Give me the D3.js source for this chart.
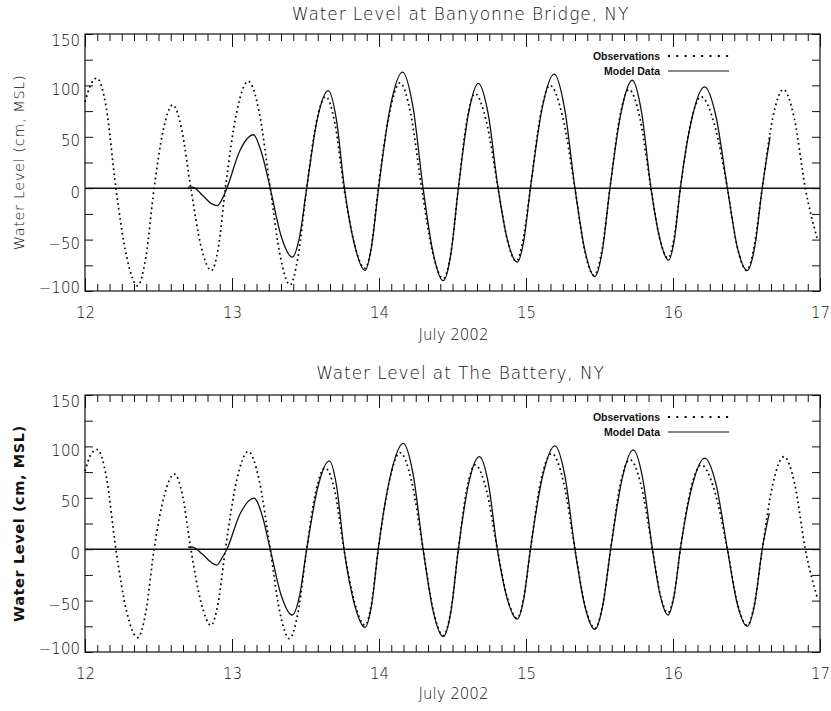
<!DOCTYPE html>
<html><head><meta charset="utf-8">
<script src="https://cdn.jsdelivr.net/npm/d3@7"></script>
<style>body{margin:0;background:#fff} svg{display:block}</style>
</head><body><svg id="c" width="831" height="711"></svg>
<script>
// ---- data (time in days of July 2002, water level in cm MSL) ----
const xTickValues = [12, 13, 14, 15, 16, 17];
const yLabelValues = [-100, -50, 0, 50, 100, 150];
const titles = ["Water Level at Banyonne Bridge, NY", "Water Level at The Battery, NY"];
const xAxisTitle = "July 2002";
const yAxisTitle = "Water Level (cm, MSL)";
const legendLabels = ["Observations", "Model Data"];

const obsBanyonne = [
[12.00,84],[12.04,101],[12.08,107],[12.145,78],[12.21,0],[12.284,-67],[12.358,-95],[12.414,-67],[12.47,0],
[12.533,57],[12.597,81],[12.658,57],[12.72,0],[12.79,-57],[12.86,-80],[12.908,-57],[12.955,0],
[13.032,74],[13.11,104],[13.185,74],[13.26,0],[13.328,-66],[13.395,-94],[13.45,-66],[13.508,0],
[13.572,63],[13.637,89],[13.70,63],[13.762,0],[13.834,-55],[13.905,-78],[13.95,-55],[13.995,0],
[14.07,72],[14.143,102.5],[14.216,72],[14.29,0],[14.364,-62],[14.437,-88],[14.49,-62],[14.54,0],
[14.597,65],[14.653,92],[14.73,65],[14.81,0],[14.872,-50],[14.935,-71],[14.98,-50],[15.03,0],
[15.097,70],[15.163,100],[15.248,70],[15.333,0],[15.398,-60],[15.463,-85],[15.517,-60],[15.571,0],
[15.636,68],[15.70,96],[15.775,68],[15.85,0],[15.908,-48],[15.966,-68],[16.008,-48],[16.05,0],
[16.12,63],[16.19,89],[16.28,63],[16.37,0],[16.435,-56],[16.50,-80],[16.553,-56],[16.607,0],
[16.678,68],[16.75,96],[16.825,68],[16.90,0],[16.983,-50]];

const modelBanyonne = [
[12.70,1],[12.73,1],[12.80,-7],[12.86,-15],[12.90,-17],[12.935,-10],[12.965,0],
[13.055,37],[13.146,52],[13.20,35],[13.26,0],[13.335,-47],[13.41,-67],[13.46,-47],[13.508,0],
[13.58,67],[13.655,95],[13.71,67],[13.765,0],[13.835,-56],[13.905,-80],[13.95,-56],[13.997,0],
[14.078,80],[14.16,113],[14.23,80],[14.30,0],[14.368,-63],[14.437,-90],[14.49,-63],[14.54,0],
[14.608,72],[14.676,102],[14.743,72],[14.81,0],[14.875,-51],[14.94,-72],[14.985,-51],[15.03,0],
[15.11,78],[15.192,111],[15.262,78],[15.333,0],[15.40,-60],[15.468,-86],[15.52,-60],[15.571,0],
[15.647,74],[15.723,105],[15.786,74],[15.85,0],[15.91,-49],[15.97,-70],[16.01,-49],[16.05,0],
[16.132,70],[16.215,98.5],[16.292,70],[16.37,0],[16.437,-57],[16.505,-80],[16.556,-57],[16.607,0],
[16.66,50]];

const obsBattery = [
[12.00,76],[12.04,92],[12.084,97],[12.147,69],[12.21,0],[12.284,-61],[12.358,-86],[12.414,-61],[12.47,0],
[12.539,52],[12.608,73],[12.664,52],[12.72,0],[12.79,-52],[12.857,-74],[12.906,-52],[12.955,0],
[13.032,67],[13.11,95],[13.185,67],[13.26,0],[13.325,-61],[13.39,-87],[13.45,-61],[13.508,0],
[13.57,56],[13.633,79],[13.70,56],[13.762,0],[13.834,-52],[13.905,-74],[13.95,-52],[13.995,0],
[14.07,66],[14.143,94],[14.222,66],[14.30,0],[14.368,-59],[14.437,-84],[14.49,-59],[14.54,0],
[14.597,58],[14.653,82],[14.73,58],[14.805,0],[14.872,-47],[14.94,-67],[14.985,-47],[15.03,0],
[15.10,66],[15.175,93],[15.254,66],[15.333,0],[15.40,-54],[15.469,-77],[15.522,-54],[15.576,0],
[15.64,62],[15.707,87],[15.783,62],[15.86,0],[15.913,-44],[15.966,-62],[16.008,-44],[16.05,0],
[16.12,58],[16.193,82],[16.28,58],[16.37,0],[16.437,-52],[16.505,-74],[16.556,-52],[16.607,0],
[16.68,64],[16.755,90],[16.827,64],[16.90,0],[16.983,-48]];

const modelBattery = [
[12.70,2],[12.73,2],[12.80,-5],[12.86,-13],[12.896,-15.5],[12.93,-9],[12.965,0],
[13.057,35],[13.15,49.6],[13.205,33],[13.26,0],[13.335,-45],[13.41,-64],[13.46,-45],[13.508,0],
[13.585,61],[13.662,86],[13.712,61],[13.762,0],[13.834,-54],[13.905,-76],[13.95,-54],[13.995,0],
[14.08,73],[14.165,103],[14.232,73],[14.30,0],[14.368,-60],[14.437,-85],[14.49,-60],[14.54,0],
[14.61,64],[14.683,90],[14.744,64],[14.805,0],[14.872,-48],[14.94,-68],[14.985,-48],[15.03,0],
[15.113,71],[15.197,100.5],[15.265,71],[15.333,0],[15.40,-55],[15.469,-78],[15.522,-55],[15.576,0],
[15.653,68],[15.73,96.6],[15.795,68],[15.86,0],[15.913,-45],[15.966,-64],[16.008,-45],[16.05,0],
[16.133,63],[16.216,88.6],[16.293,63],[16.37,0],[16.437,-53],[16.505,-75],[16.556,-53],[16.607,0],
[16.655,35]];

// ---- layout ----
const FONT = "'DejaVu Sans', sans-serif";
const panels = [
  {top: 34, bottom: 291, titleY: 20, tickY: 313, xTitleY: 340, obs: obsBanyonne, model: modelBanyonne, yBold: false},
  {top: 395, bottom: 652, titleY: 379, tickY: 674, xTitleY: 699, obs: obsBattery, model: modelBattery, yBold: true}
];
const L = 85, R = 820;
const svg = d3.select("#c");
const ink = "#111";

panels.forEach((p, i) => {
  const x = d3.scaleLinear().domain([12, 17]).range([L, R]);
  const y = d3.scaleLinear().domain([-100, 150]).range([p.bottom, p.top]);
  const g = svg.append("g");

  // title
  g.append("text").attr("x", (L + R) / 2 + 8).attr("y", p.titleY)
    .attr("text-anchor", "middle").attr("font-family", FONT).attr("font-size", 17)
    .attr("font-weight", 200).style("letter-spacing", "0.9px").attr("fill", ink)
    .text(titles[i]);

  // minor x ticks (2 h) bottom & top
  const minor = d3.range(0, 61).map(k => 12 + k / 12);
  g.append("g").attr("transform", `translate(0,${p.bottom})`)
    .call(d3.axisBottom(x).tickValues(minor).tickSize(-7).tickFormat(""))
    .call(a => a.select(".domain").remove());
  g.append("g").attr("transform", `translate(0,${p.top})`)
    .call(d3.axisTop(x).tickValues(minor).tickSize(-7).tickFormat(""))
    .call(a => a.select(".domain").remove());
  // major x ticks
  const xb = g.append("g").attr("transform", `translate(0,${p.bottom})`)
    .call(d3.axisBottom(x).tickValues(xTickValues).tickSize(-13).tickFormat(d3.format("d")));
  xb.select(".domain").remove();
  xb.selectAll("text").attr("y", p.tickY - p.bottom).attr("dy", "0.36em")
    .attr("font-family", FONT).attr("font-size", 15).attr("font-weight", 200).attr("fill", ink);
  g.append("g").attr("transform", `translate(0,${p.top})`)
    .call(d3.axisTop(x).tickValues(xTickValues).tickSize(-13).tickFormat(""))
    .call(a => a.select(".domain").remove());

  // y ticks every 25, left & right
  const yAll = d3.range(-100, 151, 25);
  const yl = g.append("g").attr("transform", `translate(${L},0)`)
    .call(d3.axisLeft(y).tickValues(yAll).tickSize(-8).tickPadding(5)
      .tickFormat(d => yLabelValues.includes(d) ? String(d).replace("-", "\u2212") : ""));
  yl.select(".domain").remove();
  yl.selectAll("text").attr("dy", d => d === 150 ? "0.75em" : d === -100 ? "0.08em" : "0.6em")
    .attr("font-family", FONT).attr("font-size", 15).attr("font-weight", 200).attr("fill", ink);
  g.append("g").attr("transform", `translate(${R},0)`)
    .call(d3.axisRight(y).tickValues(yAll).tickSize(-8).tickFormat(""))
    .call(a => a.select(".domain").remove());

  g.selectAll(".tick line").attr("stroke", ink).attr("stroke-width", 1);

  // frame
  g.append("rect").attr("x", L).attr("y", p.top).attr("width", R - L).attr("height", p.bottom - p.top)
    .attr("fill", "none").attr("stroke", ink).attr("stroke-width", 1.2);

  // zero line
  g.append("line").attr("x1", L).attr("x2", R).attr("y1", y(0)).attr("y2", y(0))
    .attr("stroke", ink).attr("stroke-width", 1.4);

  // x title
  g.append("text").attr("x", (L + R) / 2 + 1).attr("y", p.xTitleY)
    .attr("text-anchor", "middle").attr("font-family", FONT).attr("font-size", 15)
    .attr("font-weight", 200).attr("fill", ink).text(xAxisTitle);

  // y title
  g.append("text").attr("transform", `translate(24,${(p.top + p.bottom) / 2}) rotate(-90)`)
    .attr("text-anchor", "middle").attr("font-family", FONT).attr("font-size", 14.5)
    .attr("font-weight", p.yBold ? 600 : 200).style("letter-spacing", "0.6px").attr("fill", ink)
    .text(yAxisTitle);

  const line = d3.line().x(d => x(d[0])).y(d => y(d[1])).curve(d3.curveMonotoneX);

  // model (solid)
  g.append("path").datum(p.model).attr("d", line)
    .attr("fill", "none").attr("stroke", ink).attr("stroke-width", 1.3);
  // observations (dotted)
  g.append("path").datum(p.obs).attr("d", line)
    .attr("fill", "none").attr("stroke", "#000").attr("stroke-width", 1.7)
    .attr("stroke-dasharray", "1.7 3.3");

  // legend
  const lg = g.append("g");
  const ly0 = p.top + 22, ly1 = p.top + 37;
  lg.append("text").attr("x", 660).attr("y", ly0).attr("dy", "0.35em").attr("text-anchor", "end")
    .attr("font-family", "'Liberation Sans', Arial, sans-serif").attr("font-weight", "bold")
    .attr("font-size", 10.5).attr("fill", ink).text(legendLabels[0]);
  lg.append("text").attr("x", 660).attr("y", ly1).attr("dy", "0.35em").attr("text-anchor", "end")
    .attr("font-family", "'Liberation Sans', Arial, sans-serif").attr("font-weight", "bold")
    .attr("font-size", 10.5).attr("fill", ink).text(legendLabels[1]);
  lg.append("line").attr("x1", 668).attr("x2", 730).attr("y1", ly0).attr("y2", ly0)
    .attr("stroke", "#000").attr("stroke-width", 2).attr("stroke-dasharray", "2 6.3");
  lg.append("line").attr("x1", 668).attr("x2", 729).attr("y1", ly1).attr("y2", ly1)
    .attr("stroke", ink).attr("stroke-width", 1.2);
});
</script></body></html>
